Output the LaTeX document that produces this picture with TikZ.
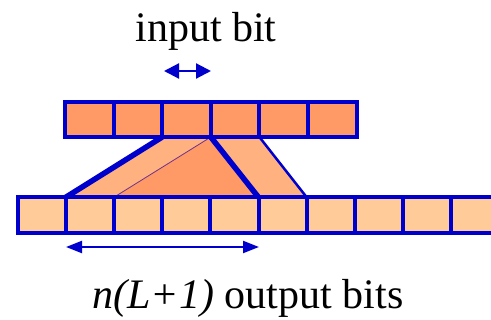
\documentclass[tikz,border=0pt]{standalone}
\usepackage{fontspec}
\setmainfont{Liberation Serif}
\usetikzlibrary{arrows.meta}
\definecolor{bblue}{RGB}{0,0,204}
\definecolor{topfill}{RGB}{255,153,102}
\definecolor{botfill}{RGB}{255,204,153}
\definecolor{midfill}{RGB}{255,178,128}
\definecolor{thinline}{RGB}{110,50,140}
\tikzset{
  topcell/.style={draw=bblue, fill=topfill, line width=4pt, minimum width=48.6pt, minimum height=35.3pt, inner sep=0pt, outer sep=0pt, anchor=west},
  botcell/.style={draw=bblue, fill=botfill, line width=4pt, minimum width=48.2pt, minimum height=35.4pt, inner sep=0pt, outer sep=0pt, anchor=west},
  lbl/.style={font=\fontsize{42}{46}\selectfont, inner sep=0pt, anchor=base},
  dimarrow/.style={bblue, line width=2.2pt},
}
\begin{document}
\begin{tikzpicture}[x=1pt,y=-1pt]
\useasboundingbox (0,0) rectangle (491,320);
\clip (0,0) rectangle (491,320);
% top row
\foreach \i in {1,...,6} {
  \node[topcell] (t\i) at ({65+48.6*(\i-1)},119.4) {};
}
% bottom row
\foreach \i in {1,...,10} {
  \node[botcell] (b\i) at ({17.5+48.2*(\i-1)},215) {};
}
% connecting shapes
\fill[midfill] (t3.south west) -- (t4.south west) -- (b3.north west) -- (b2.north west) -- cycle;
\fill[midfill] (t4.south west) -- (t5.south west) -- (b7.north west) -- (b6.north west) -- cycle;
\fill[topfill] (t4.south west) -- (b3.north west) -- (b6.north west) -- cycle;
\draw[thinline, line width=0.8pt] (t4.south west) -- (b3.north west);
\draw[bblue, line width=2.5pt] (t5.south west) -- (b7.north west);
\draw[bblue, line width=5.5pt] (t3.south west) -- (b2.north west);
\draw[bblue, line width=5.5pt] (t4.south west) -- (b6.north west);
% redraw row borders over the shapes
\foreach \i in {1,...,6} { \draw[bblue, line width=4pt] (t\i.south west) -- (t\i.south east); }
\foreach \i in {1,...,10} { \draw[bblue, line width=4pt] (b\i.north west) -- (b\i.north east); }
% input bit arrow
\coordinate (ia) at (164,71);
\coordinate (ib) at (211,71);
\draw[dimarrow, {Triangle[length=15pt,width=15pt]}-{Triangle[length=15pt,width=15pt]}] (ia) -- (ib);
\node[lbl] (inlbl) at (206,41.7) {input bit};
% output arrow
\coordinate (oa) at (66,247);
\coordinate (ob) at (259,247);
\draw[dimarrow, {Triangle[length=16pt,width=12pt]}-{Triangle[length=16pt,width=12pt]}] (oa) -- (ob);
\node[lbl] (outlbl) at (248,309) {\textit{n(L+1)} output bits};
\end{tikzpicture}
\end{document}
